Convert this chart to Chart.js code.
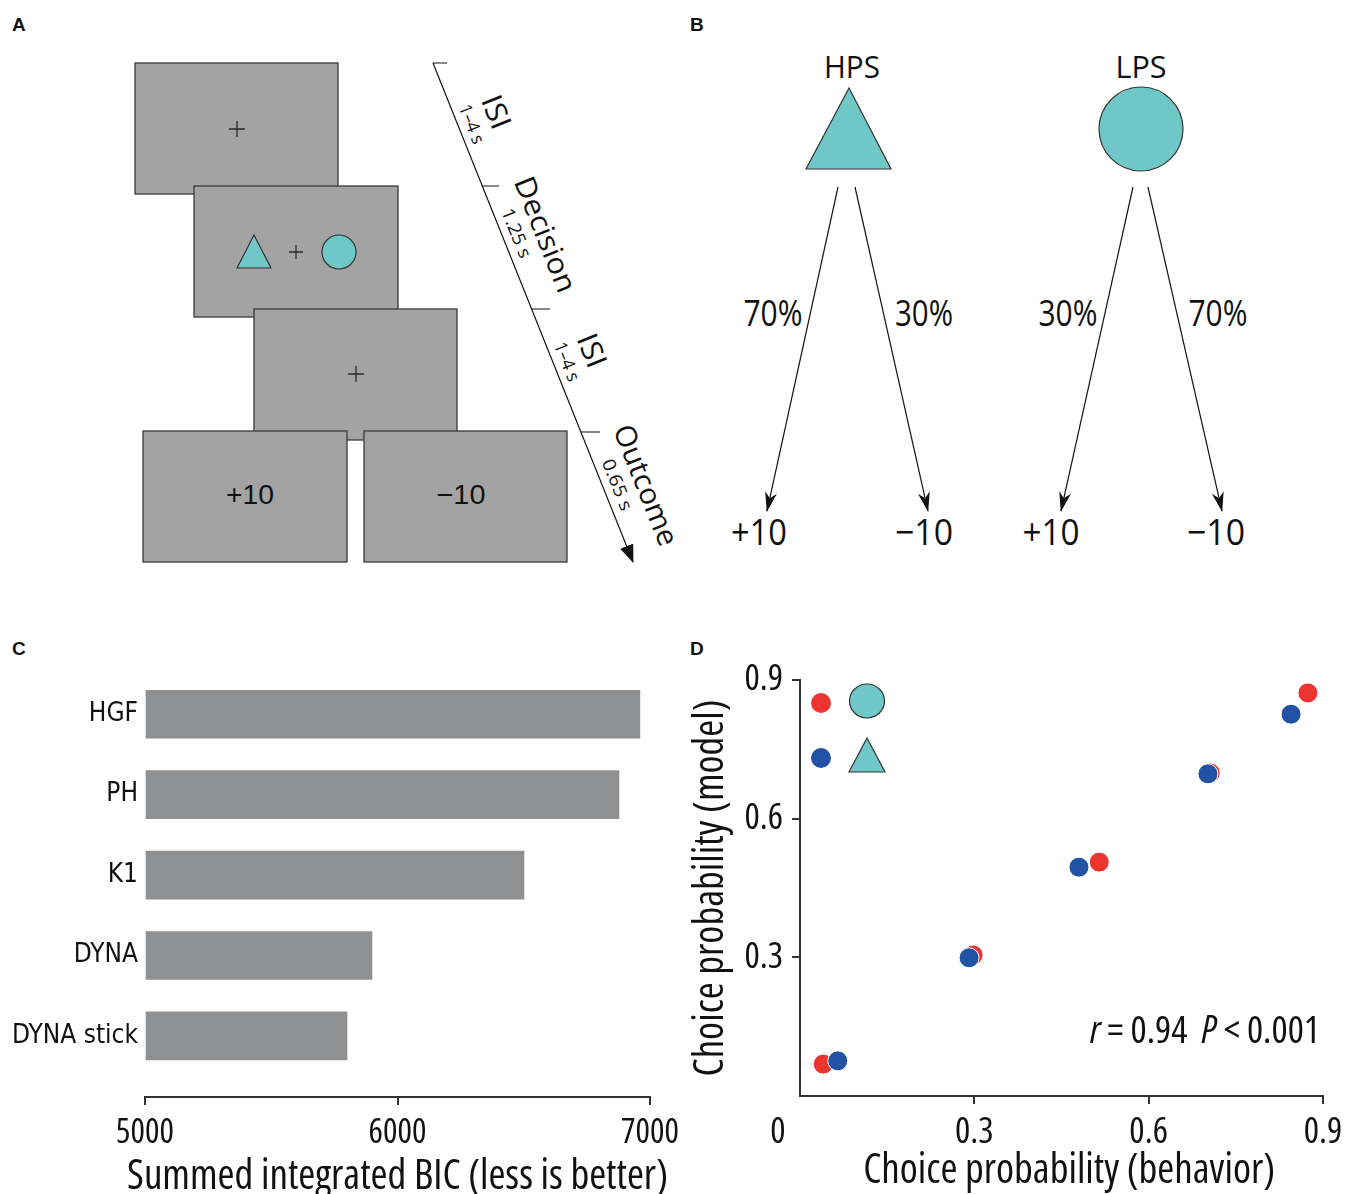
<!DOCTYPE html>
<html>
<head>
<meta charset="utf-8">
<title>Task, model comparison and choice probabilities</title>
<script src="https://cdn.jsdelivr.net/npm/chart.js@4.4.1/dist/chart.umd.min.js"></script>
<style>
  body { margin: 0; background: #fff; }
  #figure { position: relative; width: 1349px; height: 1194px; overflow: hidden; }
  #diagram { position: absolute; left: 0; top: 0; }
  #bic-chart { position: absolute; left: 0; top: 660px; }
  #choice-chart { position: absolute; left: 690px; top: 660px; }
</style>
</head>
<body>
<div id="figure">
  <svg id="diagram" width="1349" height="1194" xmlns="http://www.w3.org/2000/svg">
    <defs>
      <marker id="barb" viewBox="0 0 20 12" refX="19" refY="6" markerWidth="20" markerHeight="12" markerUnits="userSpaceOnUse" orient="auto">
        <path d="M0,0 L20,6 L0,12 L6,6 Z" fill="#111"/>
      </marker>
      <marker id="tip" viewBox="0 0 18 14" refX="17" refY="7" markerWidth="18" markerHeight="14" markerUnits="userSpaceOnUse" orient="auto">
        <path d="M0,0 L18,7 L0,14 Z" fill="#111"/>
      </marker>
    </defs>

    <!-- panel letters -->
    <g font-family="Liberation Sans, Arial, sans-serif" font-weight="bold" font-size="19" fill="#111">
      <text x="12" y="31">A</text>
      <text x="690" y="31">B</text>
      <text x="12" y="655">C</text>
      <text x="690" y="655">D</text>
    </g>

    <!-- A: trial screens -->
    <g fill="#a3a3a3" stroke="#3a3a3a" stroke-width="1.3">
      <rect x="135" y="63" width="203" height="131"/>
      <rect x="194" y="186" width="204" height="131"/>
      <rect x="254" y="309" width="203" height="131"/>
      <rect x="143" y="431" width="204" height="131"/>
      <rect x="364" y="431" width="203" height="131"/>
    </g>
    <g stroke="#2a2a2a" stroke-width="1.3">
      <path d="M229,129 H245 M237,121 V137"/>
      <path d="M289,252 H303 M296,245 V259"/>
      <path d="M348,374 H364 M356,366 V382"/>
    </g>
    <polygon points="254,235 271,268 237,268" fill="#6fc7c8" stroke="#333" stroke-width="1.2"/>
    <circle cx="339" cy="252" r="17" fill="#6fc7c8" stroke="#333" stroke-width="1.2"/>
    <g font-family="Liberation Sans, Arial, sans-serif" font-size="28" fill="#111" text-anchor="middle">
      <text x="250" y="504" textLength="48" lengthAdjust="spacingAndGlyphs">+10</text>
      <text x="461" y="504" textLength="49" lengthAdjust="spacingAndGlyphs">−10</text>
    </g>

    <!-- A: timeline -->
    <line x1="433" y1="63" x2="633" y2="562" stroke="#111" stroke-width="1.2" marker-end="url(#tip)"/>
    <g stroke="#111" stroke-width="1.2">
      <path d="M433,63 H447 M482,186 H499 M532,309 H550 M581,432 H600"/>
    </g>
    <g transform="translate(433,63) rotate(68.16)" font-family="Open Sans, sans-serif" fill="#111" text-anchor="middle" dominant-baseline="central">
      <text x="69" y="-42" font-size="29" textLength="34" lengthAdjust="spacingAndGlyphs">ISI</text>
      <text x="71" y="-14" font-size="18" textLength="41" lengthAdjust="spacingAndGlyphs">1–4 s</text>
      <text x="201" y="-42" font-size="29" textLength="122" lengthAdjust="spacingAndGlyphs">Decision</text>
      <text x="189" y="-15" font-size="18" textLength="52" lengthAdjust="spacingAndGlyphs">1.25 s</text>
      <text x="326" y="-42" font-size="29" textLength="34" lengthAdjust="spacingAndGlyphs">ISI</text>
      <text x="327" y="-14" font-size="18" textLength="41" lengthAdjust="spacingAndGlyphs">1–4 s</text>
      <text x="471" y="-42" font-size="29" textLength="128" lengthAdjust="spacingAndGlyphs">Outcome</text>
      <text x="460" y="-15" font-size="18" textLength="54" lengthAdjust="spacingAndGlyphs">0.65 s</text>
    </g>

    <!-- B: stimuli and outcome probabilities -->
    <g font-family="Open Sans, sans-serif" fill="#111" text-anchor="middle">
      <text x="852" y="78" font-size="31" textLength="56" lengthAdjust="spacingAndGlyphs">HPS</text>
      <text x="1141" y="78" font-size="31" textLength="51" lengthAdjust="spacingAndGlyphs">LPS</text>
      <text x="773" y="326" font-size="36" textLength="59" lengthAdjust="spacingAndGlyphs">70%</text>
      <text x="924" y="326" font-size="36" textLength="58" lengthAdjust="spacingAndGlyphs">30%</text>
      <text x="1068" y="326" font-size="36" textLength="59" lengthAdjust="spacingAndGlyphs">30%</text>
      <text x="1218" y="326" font-size="36" textLength="59" lengthAdjust="spacingAndGlyphs">70%</text>
      <text x="759" y="545" font-size="36" textLength="56" lengthAdjust="spacingAndGlyphs">+10</text>
      <text x="924" y="545" font-size="36" textLength="58" lengthAdjust="spacingAndGlyphs">−10</text>
      <text x="1051" y="545" font-size="36" textLength="57" lengthAdjust="spacingAndGlyphs">+10</text>
      <text x="1216" y="545" font-size="36" textLength="58" lengthAdjust="spacingAndGlyphs">−10</text>
    </g>
    <polygon points="849,88 891,169 806,169" fill="#6fc7c8" stroke="#333" stroke-width="1.2"/>
    <circle cx="1141" cy="129" r="42" fill="#6fc7c8" stroke="#333" stroke-width="1.2"/>
    <g stroke="#111" stroke-width="1.2" marker-end="url(#barb)">
      <line x1="838" y1="187" x2="767" y2="511"/>
      <line x1="855" y1="187" x2="928" y2="511"/>
      <line x1="1133" y1="187" x2="1061" y2="511"/>
      <line x1="1148" y1="187" x2="1222" y2="511"/>
    </g>
  </svg>

  <canvas id="bic-chart" width="690" height="534"></canvas>
  <canvas id="choice-chart" width="659" height="534"></canvas>
</div>

<script>
// C: model comparison
const models = ['HGF', 'PH', 'K1', 'DYNA', 'DYNA stick'];
const bicValues = [6960, 6877, 6501, 5899, 5800];
const bicTicks = [5000, 6000, 7000];
const bicTitle = 'Summed integrated BIC (less is better)';

// D: choice probability, model vs behaviour (LPS = circle, HPS = triangle)
const lpsBehavior = [0.040, 0.298, 0.515, 0.706, 0.874];
const lpsModel = [0.069, 0.305, 0.506, 0.699, 0.872];
const hpsBehavior = [0.065, 0.291, 0.480, 0.702, 0.845];
const hpsModel = [0.076, 0.299, 0.495, 0.697, 0.826];
const choiceTicks = [0.3, 0.6, 0.9];
const statsText = [
  { text: 'r', italic: true },
  { text: ' = 0.94  ' },
  { text: 'P', italic: true },
  { text: ' < 0.001' },
];

// "condensed" goes into the weight slot so the canvas picks the condensed faces
const FAMILY = '"Open Sans", sans-serif';
const LABEL_FAMILY = '"DejaVu Sans", sans-serif';
const STRETCH = 'condensed';
const INK = '#111';
const AXIS = '#333';
const RED = '#ec3431';
const BLUE = '#2152a3';
const TEAL = '#6fc7c8';

Chart.defaults.font.family = FAMILY;
Chart.defaults.font.weight = STRETCH;
Chart.defaults.color = INK;

// keep the chart area where layout.padding puts it, whatever the label sizes
const fixVertical = (width) => (s) => { s.width = width; s.paddingTop = 0; s.paddingBottom = 0; };
const fixHorizontal = (height) => (s) => { s.height = height; s.paddingLeft = 0; s.paddingRight = 0; };

// the C axis title is wider than the plot, so Chart.js would squeeze it; draw it here instead
const bicTitlePlugin = {
  id: 'bicTitle',
  afterDraw(chart) {
    const { ctx, chartArea } = chart;
    ctx.save();
    ctx.fillStyle = INK;
    ctx.font = `${STRETCH} 41px ${FAMILY}`;
    ctx.textAlign = 'center';
    ctx.textBaseline = 'middle';
    ctx.fillText(bicTitle, (chartArea.left + chartArea.right) / 2, chartArea.bottom + 80);
    ctx.restore();
  },
};

const bicChart = new Chart(document.getElementById('bic-chart'), {
  type: 'bar',
  data: {
    datasets: [{
      data: bicValues.map((v, i) => ({ x: v, y: i })),
      backgroundColor: '#8f9092',
      barThickness: 48,
      base: bicTicks[0],
    }],
  },
  options: {
    indexAxis: 'y',
    responsive: false,
    animation: false,
    devicePixelRatio: 1,
    layout: { padding: { top: 14, right: 40, left: 0, bottom: 0 } },
    plugins: { legend: { display: false }, tooltip: { enabled: false } },
    scales: {
      y: {
        type: 'linear',
        reverse: true,
        offset: false,
        min: -0.5,
        max: 4.76,
        afterBuildTicks: (s) => { s.ticks = models.map((_, i) => ({ value: i })); },
        afterFit: fixVertical(145),
        grid: { display: false, drawTicks: false, offset: false },
        border: { display: false },
        ticks: { callback: (v) => models[v], padding: 7, font: { family: LABEL_FAMILY, size: 26 }, color: INK },
      },
      x: {
        type: 'linear',
        min: bicTicks[0],
        max: bicTicks[bicTicks.length - 1],
        afterBuildTicks: (s) => { s.ticks = bicTicks.map((v) => ({ value: v })); },
        afterFit: fixHorizontal(97),
        grid: { drawOnChartArea: false, drawTicks: true, tickLength: 8, color: AXIS, lineWidth: 2 },
        border: { display: true, color: AXIS, width: 2 },
        ticks: { callback: (v) => String(v), padding: 8, font: { size: 34 }, color: INK, maxRotation: 0 },
      },
    },
  },
  plugins: [bicTitlePlugin],
});

// legend, the "0" corner label and the correlation text for panel D
const choiceExtras = {
  id: 'choiceExtras',
  afterDraw(chart) {
    const { ctx, chartArea, scales } = chart;
    ctx.save();
    ctx.fillStyle = INK;
    ctx.font = `${STRETCH} 36px ${FAMILY}`;
    ctx.textAlign = 'center';
    ctx.textBaseline = 'middle';
    ctx.fillText('0', scales.x.getPixelForValue(0) - 22, chartArea.bottom + 8 + 7 + 21.6);

    // legend: red = circle (LPS), blue = triangle (HPS)
    const lx = chartArea.left + 21;
    const ly = chartArea.top + 23;
    [RED, BLUE].forEach((c, i) => {
      ctx.beginPath();
      ctx.arc(lx, ly + i * 55, 10, 0, Math.PI * 2);
      ctx.fillStyle = c;
      ctx.fill();
    });
    ctx.fillStyle = TEAL;
    ctx.strokeStyle = AXIS;
    ctx.lineWidth = 1.2;
    ctx.beginPath();
    ctx.ellipse(lx + 46, ly - 2, 17.5, 17, 0, 0, Math.PI * 2);
    ctx.fill();
    ctx.stroke();
    ctx.beginPath();
    ctx.moveTo(lx + 46, ly + 35);
    ctx.lineTo(lx + 64, ly + 69);
    ctx.lineTo(lx + 28, ly + 69);
    ctx.closePath();
    ctx.fill();
    ctx.stroke();

    // r = 0.94  P < 0.001, right aligned
    ctx.fillStyle = INK;
    ctx.textAlign = 'left';
    const fontFor = (p) => `${p.italic ? 'italic ' : ''}${STRETCH} 38px ${FAMILY}`;
    const total = statsText.reduce((w, p) => { ctx.font = fontFor(p); return w + ctx.measureText(p.text).width; }, 0);
    let x = chartArea.right - 3 - total;
    const y = scales.y.getPixelForValue(0) - 64;
    statsText.forEach((p) => {
      ctx.font = fontFor(p);
      ctx.fillText(p.text, x, y);
      x += ctx.measureText(p.text).width;
    });
    ctx.restore();
  },
};

// blue first: Chart.js paints the first dataset on top
const choiceChart = new Chart(document.getElementById('choice-chart'), {
  type: 'scatter',
  data: {
    datasets: [
      {
        label: 'HPS',
        data: hpsBehavior.map((v, i) => ({ x: v, y: hpsModel[i] })),
        backgroundColor: BLUE,
        borderColor: '#fff',
        borderWidth: 1,
        pointRadius: 10,
      },
      {
        label: 'LPS',
        data: lpsBehavior.map((v, i) => ({ x: v, y: lpsModel[i] })),
        backgroundColor: RED,
        borderColor: '#fff',
        borderWidth: 1,
        pointRadius: 10,
      },
    ],
  },
  options: {
    responsive: false,
    animation: false,
    devicePixelRatio: 1,
    layout: { padding: { top: 20, right: 26, left: 0, bottom: 0 } },
    plugins: { legend: { display: false }, tooltip: { enabled: false } },
    scales: {
      x: {
        type: 'linear',
        min: 0,
        max: 0.9,
        afterBuildTicks: (s) => { s.ticks = choiceTicks.map((v) => ({ value: v })); },
        afterFit: fixHorizontal(98),
        grid: { drawOnChartArea: false, drawTicks: true, tickLength: 8, color: AXIS, lineWidth: 2 },
        border: { display: true, color: AXIS, width: 2 },
        ticks: { padding: 7, font: { size: 36 }, color: INK, maxRotation: 0 },
        title: {
          display: true,
          text: '  Choice probability (behavior)',
          font: { size: 41, lineHeight: 0.8 },
          color: INK,
          padding: { top: 0, bottom: 6 },
        },
      },
      y: {
        type: 'linear',
        min: 0,
        max: 0.9,
        afterBuildTicks: (s) => { s.ticks = choiceTicks.map((v) => ({ value: v })); },
        afterFit: fixVertical(110),
        grid: { drawOnChartArea: false, drawTicks: true, tickLength: 8, color: AXIS, lineWidth: 2 },
        border: { display: true, color: AXIS, width: 2 },
        ticks: { padding: 9, font: { size: 36 }, color: INK },
        title: {
          display: true,
          text: 'Choice probability (model)',
          font: { size: 41, lineHeight: 0.8 },
          color: INK,
          padding: { top: 5, bottom: 0 },
        },
      },
    },
  },
  plugins: [choiceExtras],
});
</script>
</body>
</html>
